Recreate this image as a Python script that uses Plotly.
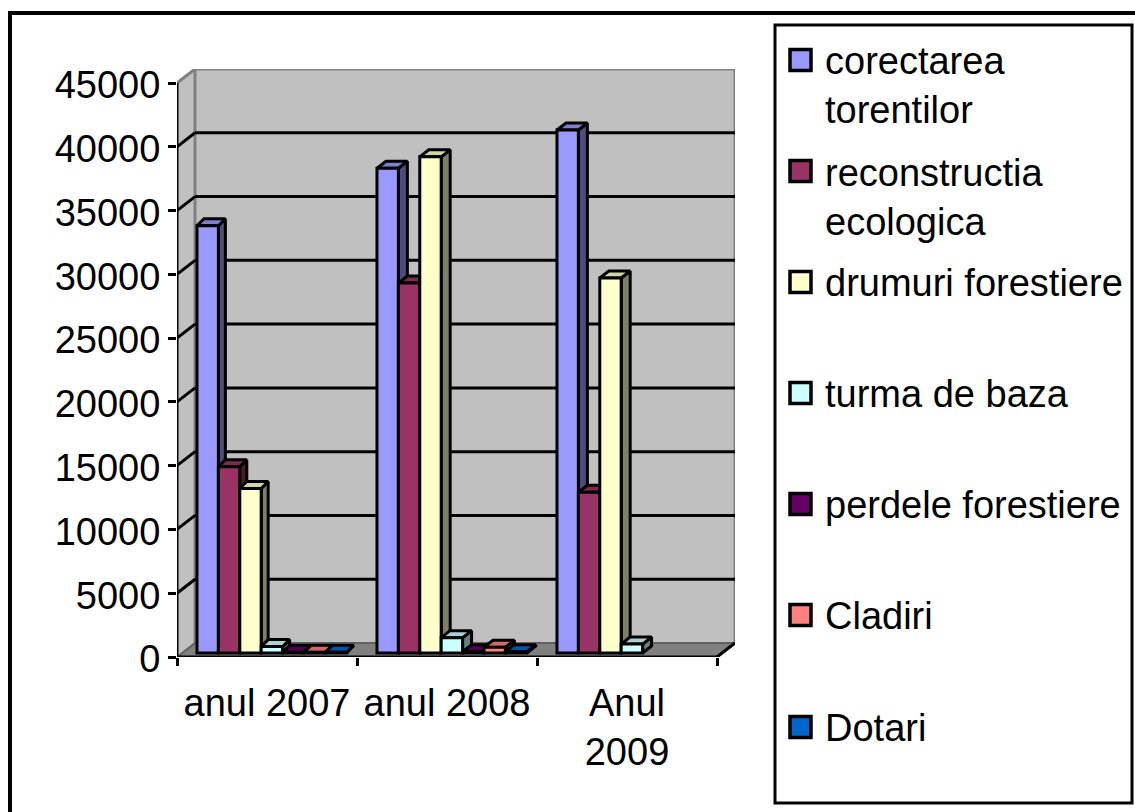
import plotly.graph_objects as go

categories = ["anul 2007", "anul 2008", "Anul<br>2009"]
series_names = ["corectarea<br>torentilor", "reconstructia<br>ecologica", "drumuri forestiere",
                "turma de baza", "perdele forestiere", "Cladiri", "Dotari"]
corectarea = [33500, 38000, 41000]
reconstructia = [14600, 29000, 12600]
drumuri = [12900, 38900, 29400]
turma = [500, 1200, 700]
perdele = [50, 100, None]
cladiri = [50, 450, None]
dotari = [50, 100, None]
series_values = [corectarea, reconstructia, drumuri, turma, perdele, cladiri, dotari]
colors = ["#9999FF", "#993366", "#FFFFCC", "#CCFFFF", "#660066", "#FF8080", "#0066CC"]
y_ticks = [0, 5000, 10000, 15000, 20000, 25000, 30000, 35000, 40000, 45000]

W, H = 1135, 812
L, R, T, B = 177, 735, 69, 657
PX_X = 1 / 180.0                # category units per pixel
PX_Y = 45000 / 574.0            # value units per pixel
x_range = [-0.5, -0.5 + (R - L) * PX_X]
y_range = [0, (B - T) * PX_Y]
wall_dx, wall_dy = 18 * PX_X, 14 * PX_Y
bar_w = 21.4 * PX_X
group_off = -0.389
lift = 4 * PX_Y
bar_dx = [7 * PX_X, 9 * PX_X, 9 * PX_X]
bar_dy = 7 * PX_Y


def shade(hex_color, k):
    r, g, b = (int(hex_color[i:i + 2], 16) for i in (1, 3, 5))
    return f"rgb({int(r * k)},{int(g * k)},{int(b * k)})"


def px(xp):
    return (xp - L) / (R - L)


def py(yp):
    return (B - yp) / (B - T)


fig = go.Figure()
LW = 3
for j, (vals, col) in enumerate(zip(series_values, colors)):
    sx, sy, tx, ty = [], [], [], []
    for i, v in enumerate(vals):
        if v is None:
            continue
        x0 = i + group_off + j * bar_w
        x1 = x0 + bar_w
        dx = bar_dx[i]
        sx += [x1, x1 + dx, x1 + dx, x1, x1, None]
        sy += [lift, lift + bar_dy, lift + v + bar_dy, lift + v, lift, None]
        tx += [x0, x0 + dx, x1 + dx, x1, x0, None]
        ty += [lift + v, lift + v + bar_dy, lift + v + bar_dy, lift + v, lift + v, None]
    for fx, fy, k in ((sx, sy, 0.5), (tx, ty, 0.83)):
        fig.add_trace(go.Scatter(x=fx, y=fy, mode="lines", fill="toself", fillcolor=shade(col, k),
                                 line=dict(color="black", width=LW), showlegend=False, hoverinfo="skip",
                                 xaxis="x", yaxis="y"))

for j, (name, vals, col) in enumerate(zip(series_names, series_values, colors)):
    fig.add_trace(go.Bar(x=[0, 1, 2], y=vals, name=name.replace("<br>", " "), width=bar_w,
                         offset=group_off + j * bar_w, marker=dict(color=col, line=dict(color="black", width=LW)),
                         showlegend=False, xaxis="x2", yaxis="y2"))

shapes = []
# walls and floor
shapes.append(dict(type="path", xref="x", yref="y", layer="below", fillcolor="#C0C0C0", line=dict(width=0),
                   path=f"M {x_range[0]} 0 L {x_range[0]} 45000 L {x_range[0] + wall_dx} {45000 + wall_dy} "
                        f"L {x_range[1]} {45000 + wall_dy} L {x_range[1]} {wall_dy} L {x_range[1] - wall_dx} 0 Z"))
shapes.append(dict(type="path", xref="x", yref="y", layer="below", fillcolor="#808080", line=dict(width=0),
                   path=f"M {x_range[0]} 0 L {x_range[0] + wall_dx} {wall_dy} L {x_range[1]} {wall_dy} "
                        f"L {x_range[1] - wall_dx} 0 Z"))


def seg(x0, y0, x1, y1, color="black", width=3):
    shapes.append(dict(type="line", xref="x", yref="y", layer="below", x0=x0, y0=y0, x1=x1, y1=y1,
                       line=dict(color=color, width=width)))


bx = x_range[0] + wall_dx
seg(bx, wall_dy, bx, 45000 + wall_dy, "#808080", 3)
seg(bx, 45000 + wall_dy, x_range[1], 45000 + wall_dy, "#808080", 3)
seg(x_range[1], wall_dy, x_range[1], 45000 + wall_dy, "#808080", 3)
seg(x_range[0], 45000, bx, 45000 + wall_dy, "#808080", 3)
seg(bx, wall_dy, x_range[1], wall_dy, "#606060", 2)
for t in y_ticks[1:-1]:
    seg(x_range[0], t, bx, t + wall_dy)
    seg(bx, t + wall_dy, x_range[1], t + wall_dy)
seg(x_range[0], 0, bx, wall_dy, "#606060", 2)
seg(x_range[1] - wall_dx, 0, x_range[1], wall_dy)
seg(x_range[0], 0, x_range[0], 45000)
seg(x_range[0], 0, x_range[1] - wall_dx, 0)

# chart frame (cropped by the page on the right and at the bottom) and legend box
shapes.append(dict(type="rect", xref="paper", yref="paper", layer="below", x0=px(10), x1=px(1160), y0=py(13), y1=py(840),
                   line=dict(color="black", width=4)))
shapes.append(dict(type="rect", xref="paper", yref="paper", layer="below", x0=px(775), x1=px(1132), y0=py(25), y1=py(803),
                   fillcolor="white", line=dict(color="black", width=3)))

# legend
FONT = "Liberation Sans, Arial, sans-serif"
FS = 38
legend_y = [60, 171, 282, 393, 504, 615, 727]
text_y = [85, 197, 283, 394, 505, 616, 728]
annotations = []
for name, col, sy, ty in zip(series_names, colors, legend_y, text_y):
    shapes.append(dict(type="rect", xref="paper", yref="paper", x0=px(790), x1=px(811), y0=py(sy - 10.5), y1=py(sy + 10.5),
                       fillcolor=col, line=dict(color="black", width=3.5)))
    annotations.append(dict(xref="paper", yref="paper", x=px(823), y=py(ty), text=name, showarrow=False, align="left",
                            xanchor="left", yanchor="middle", font=dict(family=FONT, size=FS, color="black")))

fig.update_layout(
    width=W, height=H, margin=dict(l=L, r=W - R, t=T, b=H - B, pad=0, autoexpand=False),
    paper_bgcolor="white", plot_bgcolor="white", barmode="overlay", showlegend=False,
    font=dict(family=FONT, size=FS, color="black"), shapes=shapes, annotations=annotations,
    xaxis=dict(range=x_range, tickmode="array", tickvals=[0, 1, 2], ticktext=categories, showgrid=False, zeroline=False,
               ticks="", showline=False, ticklabelstandoff=20,
               minor=dict(tickmode="array", tickvals=[-0.5, 0.5, 1.5, 2.5], ticks="outside", ticklen=8, tickwidth=3,
                          tickcolor="black", showgrid=False)),
    yaxis=dict(range=y_range, tickmode="array", tickvals=y_ticks, tickformat="d", showgrid=False, zeroline=False,
               showline=False, ticks="outside", ticklen=8, tickwidth=3, tickcolor="black", ticklabelstandoff=0,
               ticklabelshift=2),
    xaxis2=dict(range=x_range, overlaying="x", visible=False, showgrid=False, zeroline=False),
    yaxis2=dict(range=[y_range[0] - lift, y_range[1] - lift], overlaying="y", visible=False, showgrid=False, zeroline=False),
)

fig.write_html("out.html", config={"displayModeBar": False},
               post_script="document.body.style.margin='0';document.body.style.overflow='hidden';")
